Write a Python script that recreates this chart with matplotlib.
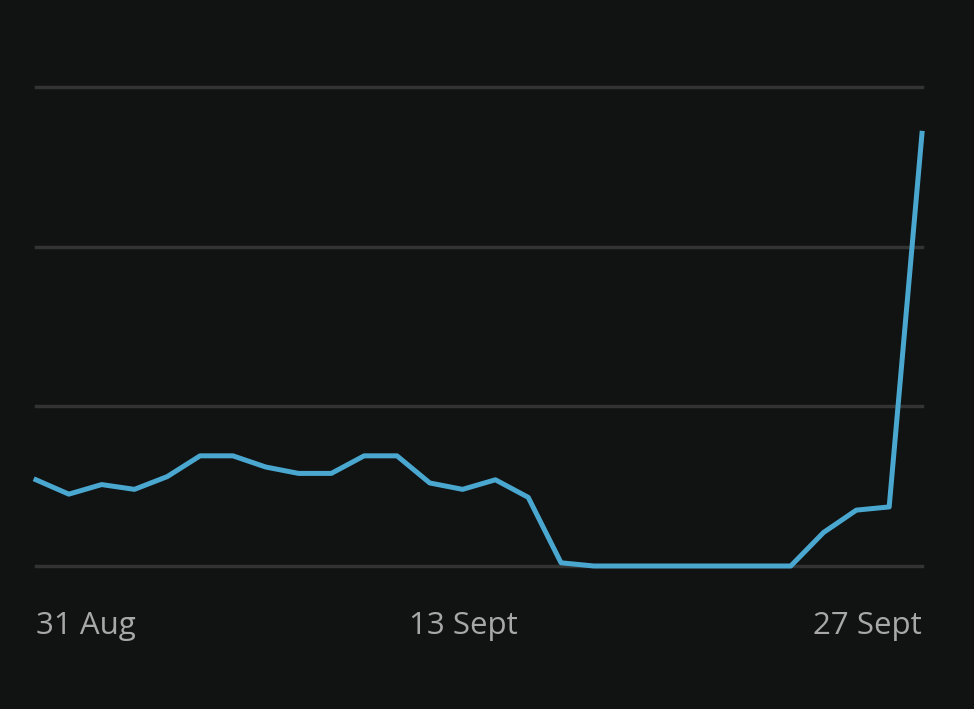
import matplotlib
matplotlib.use("Agg")
import matplotlib.pyplot as plt

values = [0.54, 0.45, 0.51, 0.48, 0.56, 0.69, 0.69, 0.62, 0.58, 0.58, 0.69, 0.69,
          0.52, 0.48, 0.54, 0.43, 0.02, 0.0, 0.0, 0.0, 0.0, 0.0, 0.0, 0.0,
          0.21, 0.35, 0.37, 2.71]
tick_labels = ["31 Aug", "13 Sept", "27 Sept"]
gridlines = [0, 1, 2, 3]

bg = "#111212"
fig = plt.figure(figsize=(9.74, 7.09), dpi=100, facecolor=bg)
ax = fig.add_axes([36/974, 1-566/709, (922-36)/974, (566-87)/709], facecolor=bg)
for g in gridlines:
    ax.axhline(g, color="#333333", lw=2.5, zorder=1, clip_on=False)
ax.plot(range(len(values)), values, color="#4aa8d0", lw=3.6, zorder=3, clip_on=False)
ax.set_xlim(0, len(values)-1)
ax.set_ylim(0, 3)
ax.axis("off")
kw = dict(transform=ax.transAxes, color="#a8a8a8", fontsize=22.5, va="center",
          family=["Open Sans", "DejaVu Sans"])
ax.text(0, -0.125, tick_labels[0], ha="left", **kw)
ax.text(0.482, -0.125, tick_labels[1], ha="center", **kw)
ax.text(1, -0.125, tick_labels[2], ha="right", **kw)
fig.savefig("out.png", dpi=100, facecolor=bg)
